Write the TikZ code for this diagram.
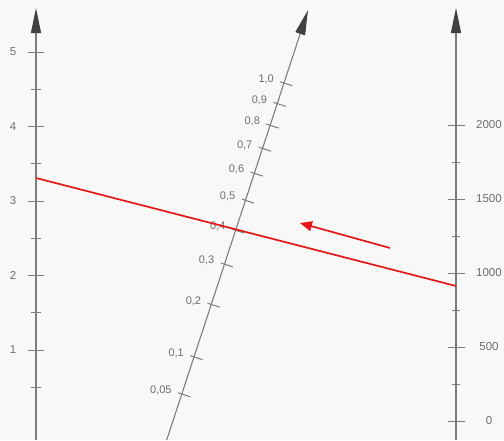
\documentclass[tikz,border=0pt]{standalone}
\usepackage{fontspec}
\setmainfont{Liberation Sans}
\usetikzlibrary{arrows.meta}
\definecolor{bg}{RGB}{248,248,246}
\definecolor{axisgray}{RGB}{125,125,125}
\definecolor{labgray}{RGB}{110,110,110}
\definecolor{headgray}{RGB}{65,65,65}
\definecolor{redline}{RGB}{228,24,24}
\begin{document}
\begin{tikzpicture}[x=1pt,y=-1pt,
  axis/.style={draw=axisgray,line width=1.1pt,-{Triangle[length=25pt,width=10pt,color=headgray,fill=headgray]}},
  ticks/.style={draw=axisgray,line width=1pt},
  lab/.style={text=labgray,font=\fontsize{11.5}{12}\selectfont,inner sep=0pt},
  mlab/.style={text=labgray,font=\fontsize{11}{12}\selectfont,inner sep=0pt,anchor=east},
  redpath/.style={draw=redline,line width=1.7pt}]
\fill[bg] (0,0) rectangle (504,440);
\useasboundingbox (0,0) rectangle (504,440);
% left axis
\coordinate (Lb) at (36,440);
\coordinate (Lt) at (36,8);
\draw[axis] (Lb) -- (Lt);
\foreach \v in {1,...,5}{
  \pgfmathsetmacro\yy{424.5-74.5*\v}
  \draw[ticks] (28,\yy) -- (44,\yy);
  \node[lab] (L\v) at (13,\yy) {\v};
}
\foreach \v in {0.5,1.5,2.5,3.5,4.5}{
  \pgfmathsetmacro\yy{424.5-74.5*\v}
  \draw[ticks] (31,\yy) -- (41,\yy);
}
% right axis
\coordinate (Rb) at (456,440);
\coordinate (Rt) at (456,8);
\draw[axis] (Rb) -- (Rt);
\foreach \v [count=\i] in {0,500,1000,1500,2000}{
  \pgfmathsetmacro\yy{421-0.148*\v}
  \draw[ticks] (448,\yy) -- (465,\yy);
  \node[lab] (R\i) at (489,\yy) {\v};
}
\foreach \v in {250,750,1250,1750}{
  \pgfmathsetmacro\yy{421-0.148*\v}
  \draw[ticks] (452,\yy) -- (460,\yy);
}
% middle axis
\coordinate (Mb) at (166.7,440);
\coordinate (Mt) at (308,10);
\draw[axis] (Mb) -- (Mt);
\foreach \v/\t [count=\i] in {0.05/{0,05},0.1/{0,1},0.2/{0,2},0.3/{0,3},0.4/{0,4},0.5/{0,5},0.6/{0,6},0.7/{0,7},0.8/{0,8},0.9/{0,9},1.0/{1,0}}{
  \pgfmathsetmacro\yy{483.6-400.6*sqrt(\v)}
  \pgfmathsetmacro\xx{166.7+0.3286*(440-\yy)}
  \draw[ticks] (\xx-3.8,\yy-1.25) -- (\xx+8.55,\yy+2.8);
  \node[mlab] (M\i) at (\xx-10,\yy-3.5) {\t};
}
% red reading line and arrow
\coordinate (Pa) at (36,178);
\coordinate (Pb) at (456,286);
\draw[redpath] (Pa) -- (Pb);
\coordinate (Aa) at (390,248);
\coordinate (Ab) at (300,223);
\draw[redpath,-{Triangle[length=12pt,width=10pt]}] (Aa) -- (Ab);
\end{tikzpicture}
\end{document}
